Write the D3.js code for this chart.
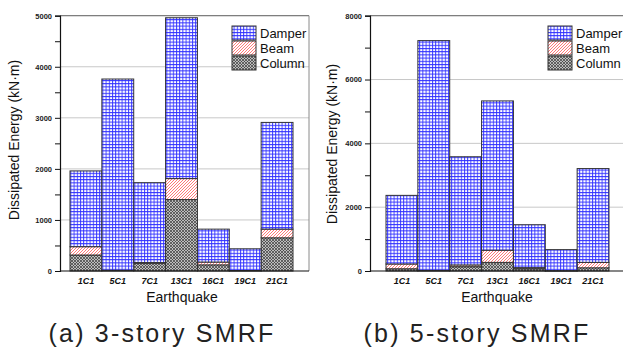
<!DOCTYPE html>
<html><head><meta charset="utf-8">
<script src="https://cdn.jsdelivr.net/npm/d3@7"></script>
<style>
body{margin:0;background:#fff;}
svg{display:block;}
text{font-family:"Liberation Sans",Arial,sans-serif;}
</style></head>
<body>
<svg id="c" width="623" height="350"></svg>
<script>
// ---- data ----
const categories = ["1C1","5C1","7C1","13C1","16C1","19C1","21C1"];
const seriesNames = ["Column","Beam","Damper"];
// 3-story SMRF (kN·m)
const column3 = [313, 10, 150, 1400, 120, 5, 650];
const beam3   = [163, 5, 15, 410, 55, 5, 170];
const damper3 = [1484, 3745, 1565, 3150, 645, 425, 2090];
// 5-story SMRF (kN·m)
const column5 = [70, 10, 135, 270, 70, 5, 100];
const beam5   = [150, 10, 55, 380, 35, 5, 170];
const damper5 = [2150, 7200, 3390, 4680, 1345, 660, 2940];
const yTicks3 = [0,1000,2000,3000,4000,5000];
const yTicks5 = [0,2000,4000,6000,8000];
const legendLabels = ["Damper","Beam","Column"];

const svg = d3.select("#c");
const defs = svg.append("defs");
// Damper: blue grid
const pd = defs.append("pattern").attr("id","pDamper").attr("patternUnits","userSpaceOnUse")
  .attr("width",3.2).attr("height",3.2);
pd.append("rect").attr("width",3.2).attr("height",3.2).attr("fill","#fff");
pd.append("path").attr("d","M0,0.5H3.2M0.5,0V3.2").attr("stroke","#2e2eff").attr("stroke-width",0.9);
// Beam: red diagonal hatch
const pb = defs.append("pattern").attr("id","pBeam").attr("patternUnits","userSpaceOnUse")
  .attr("width",3).attr("height",3);
pb.append("rect").attr("width",3).attr("height",3).attr("fill","#fff");
pb.append("path").attr("d","M-1,1L1,-1M0,3L3,0M2,4L4,2").attr("stroke","#ff6a6a").attr("stroke-width",0.9);
// Column: gray crosshatch
const pc = defs.append("pattern").attr("id","pColumn").attr("patternUnits","userSpaceOnUse")
  .attr("width",3).attr("height",3);
pc.append("rect").attr("width",3).attr("height",3).attr("fill","#bdbdbd");
pc.append("path").attr("d","M-1,1L1,-1M0,3L3,0M2,4L4,2M-1,2L1,4M0,0L3,3M2,-1L4,1").attr("stroke","#3a3a3a").attr("stroke-width",0.7);
const fills = {Column:"url(#pColumn)",Beam:"url(#pBeam)",Damper:"url(#pDamper)"};

function chart(o){
  const g = svg.append("g");
  const y = d3.scaleLinear().domain([0,o.ymax]).range([271,15.7]);
  const x = d3.scaleBand().domain(categories).range([o.bx0,o.bx1]).padding(0);
  // grid
  g.selectAll(".grid").data(o.ticks.filter(t=>t>0)).join("line")
    .attr("x1",o.px0).attr("x2",o.px1).attr("y1",d=>y(d)).attr("y2",d=>y(d))
    .attr("stroke","#c8c8c8").attr("stroke-width",1);
  // frame top/right
  g.append("line").attr("x1",o.px0).attr("x2",o.px1).attr("y1",y(o.ymax)).attr("y2",y(o.ymax))
    .attr("stroke","#6a6a6a").attr("stroke-width",1);
  g.append("line").attr("x1",o.px1).attr("x2",o.px1).attr("y1",y(o.ymax)).attr("y2",y(0))
    .attr("stroke","#8a8a8a").attr("stroke-width",1);
  // stacks
  const rows = categories.map((c,i)=>({cat:c,Column:o.col[i],Beam:o.beam[i],Damper:o.damp[i]}));
  const stack = d3.stack().keys(seriesNames)(rows);
  stack.forEach(s=>{
    g.selectAll(null).data(s).join("rect")
      .attr("x",d=>x(d.data.cat)).attr("width",x.bandwidth())
      .attr("y",d=>y(d[1])).attr("height",d=>y(d[0])-y(d[1]))
      .attr("fill",fills[s.key]).attr("stroke","#333").attr("stroke-width",1);
  });
  // axes
  const minor = d3.range(0,o.ymax+1,o.minorStep);
  const ya = d3.axisLeft(y).tickValues(minor).tickSize(5).tickPadding(3)
    .tickFormat(d=> o.ticks.includes(d)? d : "");
  const ag = g.append("g").attr("transform",`translate(${o.px0},0)`).call(ya);
  ag.select(".domain").attr("stroke","#111").attr("stroke-width",1.2);
  ag.selectAll(".tick line").attr("stroke","#111");
  ag.selectAll(".tick text").attr("font-size",7.5).attr("font-weight","bold").attr("fill","#222")
    .attr("font-family","'Liberation Sans',Arial,sans-serif");
  g.append("line").attr("x1",o.px0).attr("x2",o.px1).attr("y1",y(0)).attr("y2",y(0))
    .attr("stroke","#111").attr("stroke-width",1.2);
  const xa = d3.axisBottom(x).tickSize(0).tickPadding(7);
  const xg = g.append("g").attr("transform",`translate(0,${y(0)})`).call(xa);
  xg.select(".domain").remove();
  xg.selectAll(".tick text").attr("font-size",9).attr("font-weight","bold").attr("font-style","italic")
    .attr("fill","#111").attr("font-family","'Liberation Sans',Arial,sans-serif");
  // labels
  g.append("text").attr("transform",`translate(${o.ylx},${o.yly}) rotate(-90)`)
    .attr("text-anchor","middle").attr("font-size",14).attr("fill","#111").text("Dissipated Energy (kN·m)");
  g.append("text").attr("x",o.xlx).attr("y",302).attr("text-anchor","middle").attr("font-size",14)
    .attr("fill","#111").text("Earthquake");
  g.append("text").attr("x",o.stx).attr("y",342).attr("text-anchor","middle").attr("font-size",25)
    .attr("letter-spacing",2.2).attr("fill","#222").attr("font-family","'Noto Sans CJK KR',sans-serif")
    .text(o.sub);
  // legend
  const lg = g.append("g");
  legendLabels.forEach((k,i)=>{
    lg.append("rect").attr("x",o.lx).attr("y",26+i*15).attr("width",24).attr("height",14)
      .attr("fill",fills[k]).attr("stroke","#333").attr("stroke-width",1);
    lg.append("text").attr("x",o.lx+28).attr("y",37.5+i*15).attr("font-size",13).attr("fill","#111").text(k);
  });
}

chart({ymax:5000,ticks:yTicks3,minorStep:500,col:column3,beam:beam3,damp:damper3,
  px0:60,px1:309,bx0:70,bx1:293,ylx:19,yly:140,xlx:182,stx:162,lx:232,sub:"(a) 3-story SMRF"});
chart({ymax:8000,ticks:yTicks5,minorStep:1000,col:column5,beam:beam5,damp:damper5,
  px0:370,px1:628,bx0:386,bx1:609,ylx:337,yly:144,xlx:497,stx:477,lx:548,sub:"(b) 5-story SMRF"});
</script>
</body></html>
